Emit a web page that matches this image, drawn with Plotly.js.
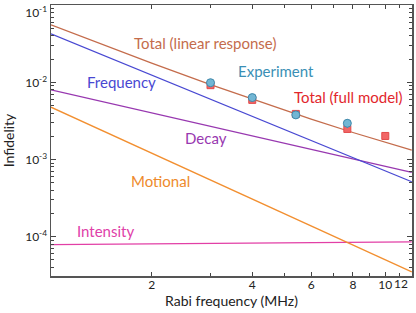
<!DOCTYPE html>
<html>
<head>
<meta charset="utf-8">
<script src="https://cdn.plot.ly/plotly-3.0.1.min.js"></script>
<style>html,body{margin:0;padding:0;background:#fff;}#chart{width:416px;height:313px;}</style>
</head>
<body>
<div id="chart"></div>
<script>
// Component curves (straight power laws, read at the ends of the axis)
const lineX = [1, 12];
const frequencyY = [0.0427, 0.000515];
const decayY = [0.0080, 0.000682];
const motionalY = [0.00477, 0.0000349];
const intensityY = [0.000079, 0.0000857];

// Total (linear response) curve, read at several frequencies
const totalX = [1, 1.5, 2, 3, 4, 6, 8, 10, 12];
const totalY = [0.0556, 0.0283, 0.01776, 0.00937, 0.00605, 0.00334, 0.00224, 0.00167, 0.00132];

// Experiment points
const expX = [3, 4, 5.4, 7.7];
const expY = [0.0099, 0.00635, 0.00379, 0.00295];
const expErr = [0.0005, 0.0003, 0.0002, 0.0004];

// Total (full model) points
const fullX = [3, 4, 5.4, 7.7, 10];
const fullY = [0.0092, 0.00593, 0.0039, 0.00249, 0.00202];

const xTicks = [2, 4, 6, 8, 10, 12];
const xTickText = ['2', '4', '6', '8', '10', ''];
const xEdgeLabel = '12';
const xMinor = [3, 5, 7, 9, 11];
const yTicks = [1e-4, 1e-3, 1e-2, 1e-1];
const yTickText = ['10<sup>-4</sup>', '10<sup>-3</sup>', '10<sup>-2</sup>', '\u00a0<br>10<sup>-1</sup>'];

const FONT = 'Lato, "Open Sans", sans-serif';
const lw = 1.3;

const traces = [
  {x: lineX, y: intensityY, mode: 'lines', line: {color: '#e23fa6', width: lw}},
  {x: lineX, y: motionalY, mode: 'lines', line: {color: '#f28f30', width: lw}},
  {x: lineX, y: decayY, mode: 'lines', line: {color: '#9838b0', width: lw}},
  {x: lineX, y: frequencyY, mode: 'lines', line: {color: '#4848d2', width: lw}},
  {x: totalX, y: totalY, mode: 'lines', line: {color: '#c46c4c', width: lw}},
  {x: fullX, y: fullY, mode: 'markers',
   marker: {symbol: 'square', size: 7, color: '#f26666', line: {color: '#e24a4a', width: 1}}},
  {x: expX, y: expY, mode: 'markers',
   error_y: {type: 'data', array: expErr, color: '#4a90b0', thickness: 1, width: 0},
   marker: {symbol: 'circle', size: 8, color: '#72b6d4', line: {color: '#3f88aa', width: 1}}}
];

function ann(text, x, y, color) {
  return {text: text, xref: 'paper', yref: 'paper', x: x, y: y, xanchor: 'center', yanchor: 'middle',
          showarrow: false, font: {family: FONT, size: 15, color: color}};
}

const layout = {
  width: 416, height: 313,
  margin: {l: 51, r: 4, t: 5, b: 37},
  paper_bgcolor: '#fff', plot_bgcolor: '#fff',
  showlegend: false,
  font: {family: FONT, size: 12, color: '#222'},
  xaxis: {
    type: 'log', range: [0, Math.log10(12.02)],
    tickmode: 'array', tickvals: xTicks, ticktext: xTickText,
    ticklabelstandoff: -3,
    ticks: 'inside', ticklen: 4, tickcolor: '#444', tickwidth: 1.2,
    minor: {tickmode: 'array', tickvals: xMinor, ticks: 'inside', ticklen: 3, tickcolor: '#444', tickwidth: 1},
    showline: true, linecolor: '#555', linewidth: 1.5, mirror: 'ticks',
    showgrid: false, zeroline: false,
    tickfont: {family: FONT, size: 12, color: '#222'},
    title: {text: 'Rabi frequency (MHz)', font: {family: FONT, size: 14, color: '#222'}, standoff: 5}
  },
  yaxis: {
    type: 'log', range: [-4.51, -0.997],
    tickmode: 'array', tickvals: yTicks, ticktext: yTickText,
    ticklabeloverflow: 'allow',
    ticks: 'inside', ticklen: 5, tickcolor: '#444', tickwidth: 1.2,
    minor: {dtick: 'D1', ticks: 'inside', ticklen: 3, tickcolor: '#444', tickwidth: 1},
    showline: true, linecolor: '#555', linewidth: 1.5, mirror: 'ticks',
    showgrid: false, zeroline: false,
    tickfont: {family: FONT, size: 12, color: '#222'},
    title: {text: 'Infidelity', font: {family: FONT, size: 14, color: '#222'}, standoff: 8}
  },
  annotations: [
    ann('Total (linear response)', 0.427, 0.861, '#c46c4c'),
    ann('Frequency', 0.194, 0.717, '#4848d2'),
    ann('Experiment', 0.623, 0.758, '#3a8fb5'),
    ann('Total (full model)', 0.823, 0.662, '#e2262c'),
    ann('Decay', 0.429, 0.510, '#9838b0'),
    ann('Motional', 0.302, 0.351, '#ee8a2c'),
    ann('Intensity', 0.152, 0.166, '#e040a8'),
    {text: xEdgeLabel, xref: 'paper', yref: 'paper', x: 0.995, y: 0.006, xanchor: 'right', yanchor: 'top',
     showarrow: false, font: {family: FONT, size: 12, color: '#222'}}
  ]
};

Plotly.newPlot('chart', traces, layout, {displayModeBar: false, staticPlot: true});
</script>
</body>
</html>
